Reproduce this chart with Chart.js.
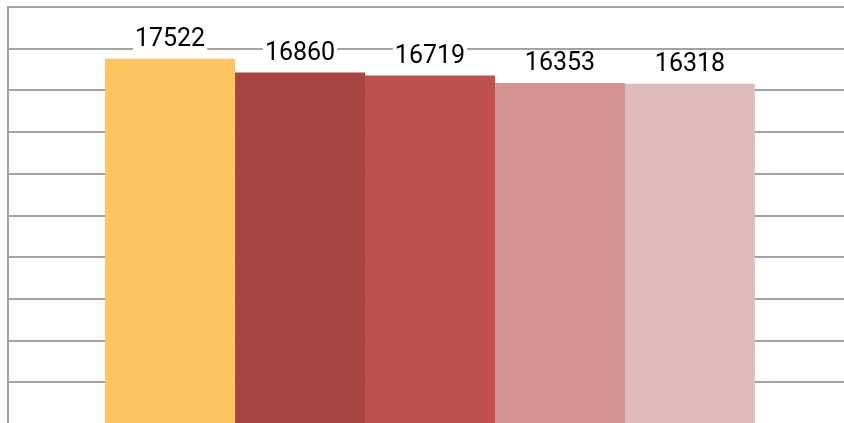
<!DOCTYPE html>
<html>
<head>
<meta charset="utf-8">
<script src="https://cdn.jsdelivr.net/npm/chart.js@4/dist/chart.umd.min.js"></script>
<style>
    html, body { margin: 0; padding: 0; background: #fff; overflow: hidden; }
    #wrap { position: absolute; left: 0; top: 0; width: 852px; height: 425px; }
</style>
</head>
<body>
<div id="wrap"><canvas id="mainChart"></canvas></div>
<script>
// Chart data
const categories = ['Total'];
const seriesNames = ['A', 'B', 'C', 'D', 'E'];
const seriesValues = [17522, 16860, 16719, 16353, 16318];
const seriesColors = ['#FDC45F', '#A84644', '#C0504D', '#D39392', '#E0BBBB'];
const yTicks = [0, 2000, 4000, 6000, 8000, 10000, 12000, 14000, 16000, 18000, 20000];

// Value labels with a white box behind, drawn above each bar
const valueLabels = {
    id: 'valueLabels',
    afterDatasetsDraw(chart) {
        const ctx = chart.ctx;
        ctx.save();
        ctx.font = '25px Roboto';
        ctx.textAlign = 'center';
        ctx.textBaseline = 'middle';
        chart.data.datasets.forEach((ds, i) => {
            const bar = chart.getDatasetMeta(i).data[0];
            const text = String(ds.data[0]);
            const w = ctx.measureText(text).width + 4;
            const y = bar.y - 20;
            ctx.fillStyle = '#fff';
            ctx.fillRect(bar.x - w / 2, y - 13, w, 26);
            ctx.fillStyle = '#000';
            ctx.fillText(text, bar.x, y + 1);
        });
        ctx.restore();
    }
};

function initializeChart() {
    const ctx = document.getElementById('mainChart');
    const datasets = seriesNames.map((name, i) => ({
        label: name,
        data: [seriesValues[i]],
        backgroundColor: seriesColors[i],
        borderWidth: 0,
        barPercentage: 1,
        categoryPercentage: 0.77
    }));

    new Chart(ctx, {
        type: 'bar',
        data: { labels: categories, datasets: datasets },
        options: {
            responsive: true,
            maintainAspectRatio: false,
            animation: false,
            layout: { padding: { left: 8, top: 7, right: 0, bottom: 1 } },
            scales: {
                x: { display: false },
                y: {
                    min: 0,
                    max: 20000,
                    afterBuildTicks: axis => { axis.ticks = yTicks.map(v => ({ value: v })); },
                    ticks: { display: false },
                    grid: { color: '#a3a3a3', lineWidth: 2, drawTicks: false },
                    border: { display: true, color: '#a3a3a3', width: 2 }
                }
            },
            plugins: {
                legend: { display: false },
                tooltip: { enabled: false }
            }
        },
        plugins: [valueLabels]
    });
}

document.addEventListener('DOMContentLoaded', initializeChart);
</script>
</body>
</html>
